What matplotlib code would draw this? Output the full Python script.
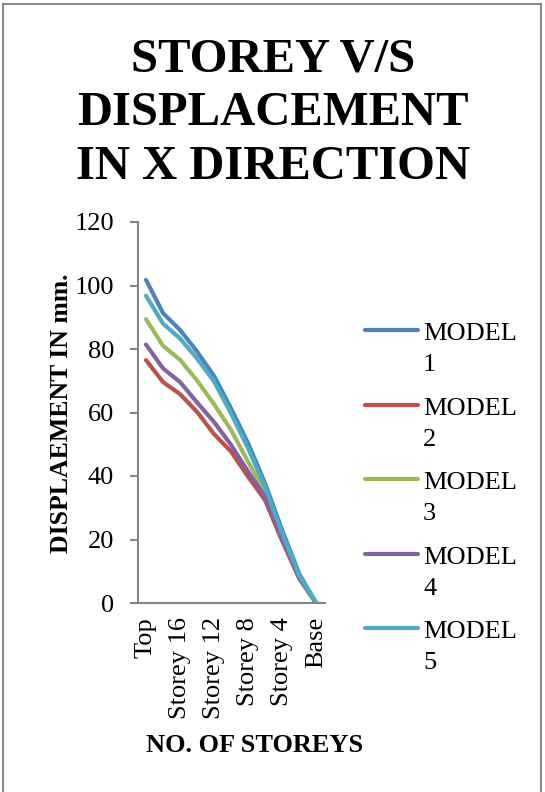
import matplotlib
matplotlib.use("Agg")
import matplotlib.pyplot as plt
from matplotlib.lines import Line2D
from matplotlib.patches import Rectangle

plt.rcParams['font.family'] = ['Liberation Serif', 'DejaVu Serif']

# Storey levels (top to base) and lateral displacement in mm
storeys = ["Top", "Storey 18", "Storey 16", "Storey 14", "Storey 12", "Storey 10",
           "Storey 8", "Storey 6", "Storey 4", "Storey 2", "Base"]
model_1 = [101.8, 91.3, 86.0, 79.2, 71.5, 61.3, 50.3, 37.7, 23.0, 9.3, 0.0]
model_2 = [76.5, 69.6, 65.8, 60.2, 53.2, 47.7, 39.8, 32.4, 19.6, 7.8, 0.0]
model_3 = [89.4, 81.0, 76.6, 70.1, 62.6, 54.5, 44.5, 35.0, 20.9, 8.0, 0.0]
model_4 = [81.4, 73.9, 69.6, 63.2, 57.0, 49.8, 41.4, 33.5, 20.3, 7.9, 0.0]
model_5 = [96.8, 88.0, 83.3, 77.0, 69.8, 59.7, 48.7, 36.6, 22.0, 8.8, 0.0]

series = [model_1, model_2, model_3, model_4, model_5]
names = ["MODEL 1", "MODEL 2", "MODEL 3", "MODEL 4", "MODEL 5"]
colors = ["#4F81BD", "#C0504D", "#9BBB59", "#8064A2", "#4BACC6"]

y_ticks = [0, 20, 40, 60, 80, 100, 120]
shown_labels = ["Top", "Storey 16", "Storey 12", "Storey 8", "Storey 4", "Base"]

W, H = 545, 792
fig = plt.figure(figsize=(W / 100, H / 100), dpi=100)


def fy(py):
    """Convert a pixel row (from the top) to a figure fraction."""
    return 1 - py / H


# plot area in pixel coordinates
x0, x1 = 137.5, 324.6
y_top, y_bot = 222, 603
ax = fig.add_axes([x0 / W, fy(y_bot), (x1 - x0) / W, (y_bot - y_top) / H])

idx = list(range(len(storeys)))
for vals, c in zip(series, colors):
    ax.plot(idx, vals, color=c, lw=3.0, solid_capstyle='round', solid_joinstyle='round')

ax.set_xlim(-0.5, len(storeys) - 0.5)
ax.set_ylim(0, 120)
ax.set_yticks(y_ticks)
ax.set_yticklabels([str(t) for t in y_ticks], fontsize=19)
tick_pos = [storeys.index(s) for s in shown_labels]
ax.set_xticks(tick_pos)
ax.set_xticklabels(shown_labels, rotation=90, fontsize=19, va='top')

for s in ['top', 'right']:
    ax.spines[s].set_visible(False)
for s in ['left', 'bottom']:
    ax.spines[s].set_color('#868686')
    ax.spines[s].set_linewidth(1.5)
ax.tick_params(axis='y', length=6, width=1.5, color='#868686', pad=11)
ax.tick_params(axis='x', length=0, pad=10)

# title
for text, base in [("STOREY V/S", 71), ("DISPLACEMENT", 125), ("IN X DIRECTION", 179)]:
    fig.text(273 / W, fy(base), text, ha='center', va='baseline',
             fontsize=35, fontweight='bold')

# axis titles
fig.text(62 / W, fy(413), "DISPLAEMENT IN mm.", rotation=90, ha='center',
         va='center', fontsize=18.5, fontweight='bold')
fig.text(255 / W, fy(746), "NO. OF STOREYS", ha='center', va='center',
         fontsize=19, fontweight='bold')

# legend
leg_y = [330, 405, 479, 554, 628]
for name, c, ly in zip(names, colors, leg_y):
    fig.add_artist(Line2D([365 / W, 418 / W], [fy(ly), fy(ly)], color=c,
                          lw=3.0, solid_capstyle='round'))
    word, num = name.split(" ")
    fig.text(423 / W, fy(ly + 10), word, ha='left', va='baseline', fontsize=19)
    fig.text(423 / W, fy(ly + 41), num, ha='left', va='baseline', fontsize=19)

# outer frame
fig.add_artist(Rectangle((2.5 / W, -0.1), (541 - 2.5) / W, 1.1 - 4.5 / H,
                         transform=fig.transFigure, fill=False,
                         edgecolor='#8a8a8a', lw=1.5))

fig.savefig("out.png", dpi=100)
